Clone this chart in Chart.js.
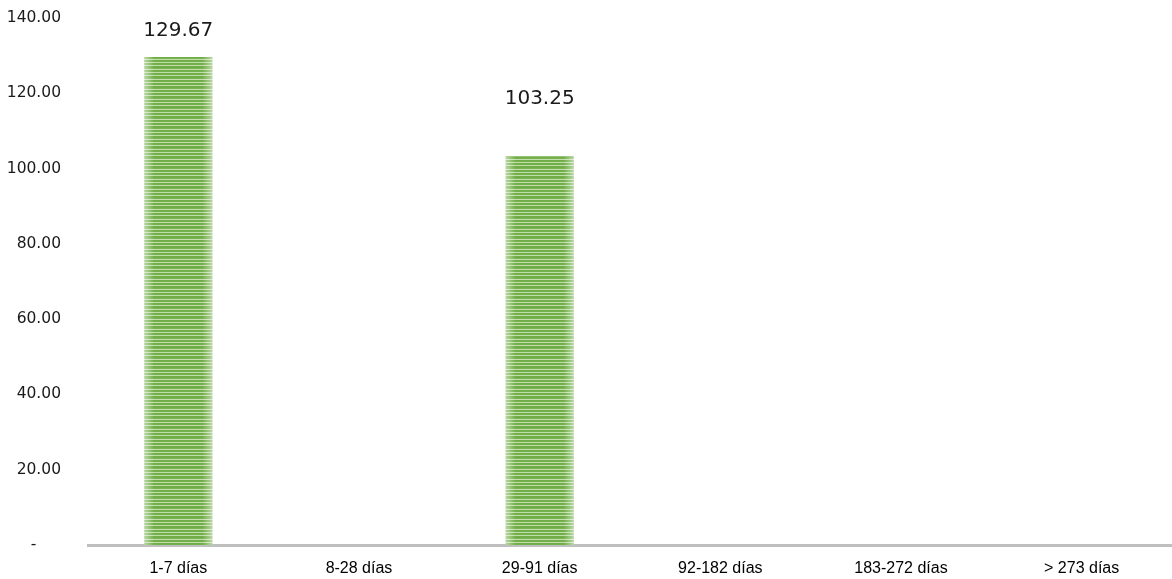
<!DOCTYPE html>
<html>
<head>
<meta charset="utf-8">
<script src="https://cdn.jsdelivr.net/npm/chart.js@4.4.1/dist/chart.umd.min.js"></script>
<style>
  html, body { margin: 0; padding: 0; background: #fff; }
  #wrap { width: 1172px; height: 579px; }
</style>
</head>
<body>
<div id="wrap"><canvas id="plazos"></canvas></div>
<script>
const plazos = ['1-7 días', '8-28 días', '29-91 días', '92-182 días', '183-272 días', '> 273 días']
const montos = [129.67, 0, 103.25, 0, 0, 0]
const yTicks = [0, 20, 40, 60, 80, 100, 120, 140]

// striped fill for the bars
function stripes() {
  const c = document.createElement('canvas')
  c.width = 4
  c.height = 10
  const g = c.getContext('2d')
  const rows = ['#70AD47', '#74B04B', '#BEDDA8', '#70AD47', '#74B04B', '#BEDDA8', '#70AD47', '#70AD47', '#7AB351', '#C2DFAD']
  rows.forEach((col, i) => {
    g.fillStyle = col
    g.fillRect(0, i, 4, 1)
  })
  return g.createPattern(c, 'repeat')
}

// soft light edges on each bar + value labels above
const barExtras = {
  id: 'barExtras',
  afterDatasetsDraw(chart, args, opts) {
    const ctx = chart.ctx
    const meta = chart.getDatasetMeta(0)
    meta.data.forEach((bar, i) => {
      const v = montos[i]
      if (!v) return
      const left = bar.x - bar.width / 2
      const right = bar.x + bar.width / 2
      const top = bar.y
      const h = bar.base - bar.y

      ctx.save()
      let gl = ctx.createLinearGradient(left, 0, left + 10, 0)
      gl.addColorStop(0, 'rgba(255,255,255,0.5)')
      gl.addColorStop(1, 'rgba(255,255,255,0)')
      ctx.fillStyle = gl
      ctx.fillRect(left, top, 10, h)
      let gr = ctx.createLinearGradient(right - 10, 0, right, 0)
      gr.addColorStop(0, 'rgba(255,255,255,0)')
      gr.addColorStop(1, 'rgba(255,255,255,0.5)')
      ctx.fillStyle = gr
      ctx.fillRect(right - 10, top, 10, h)
      ctx.restore()

      ctx.save()
      ctx.font = '20px "DejaVu Sans"'
      ctx.fillStyle = '#1a1a1a'
      ctx.textAlign = 'center'
      ctx.textBaseline = 'middle'
      ctx.fillText(v.toFixed(2), bar.x, top - opts.offsets[i])
      ctx.restore()
    })
  }
}

const ctxPlazos = document.querySelector('#plazos')

const chartPlazos = new Chart(ctxPlazos, {
  type: 'bar',

  data: {
    labels: plazos,
    datasets: [{
      data: montos,
      backgroundColor: stripes(),
      borderWidth: 0,
      categoryPercentage: 1,
      barPercentage: 0.376
    }]
  },

  options: {
    responsive: true,
    maintainAspectRatio: false,
    animation: false,
    layout: {
      padding: { top: 18, right: 0, bottom: 0, left: 0 }
    },
    plugins: {
      legend: { display: false },
      tooltip: { enabled: false },
      barExtras: { offsets: [26, 0, 57.5, 0, 0, 0] }
    },
    scales: {
      x: {
        grid: { display: false, drawTicks: false },
        border: { display: true, color: '#BFBFBF', width: 3 },
        ticks: {
          padding: 14,
          color: '#000',
          font: { family: '"Liberation Sans"', size: 16 }
        },
        afterFit(scale) { scale.height = 34 }
      },
      y: {
        min: 0,
        max: 140,
        grid: { display: false, drawTicks: false },
        border: { display: false },
        afterBuildTicks(scale) {
          scale.ticks = yTicks.map(v => ({ value: v }))
        },
        afterFit(scale) {
          // tick padding only shifts the labels, not the plot area
          scale.width = 88
          scale.paddingTop = 9
          scale.paddingBottom = 9
        },
        ticks: {
          padding: 27,
          color: '#1a1a1a',
          font: { family: '"DejaVu Sans"', size: 15.5 },
          callback: v => v === 0 ? '-     ' : v.toFixed(2)
        }
      }
    }
  },

  plugins: [barExtras]
})
</script>
</body>
</html>
